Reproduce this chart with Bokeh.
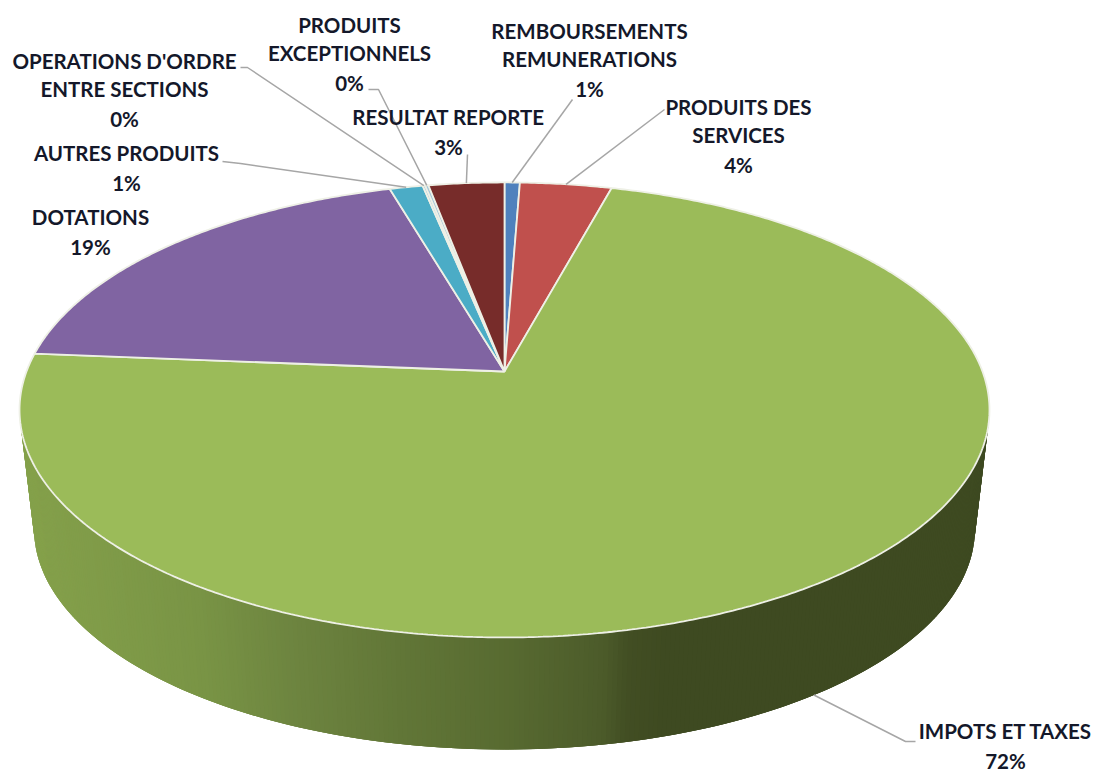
import math
from bokeh.plotting import figure
from bokeh.models import Range1d, ColumnDataSource
from bokeh.core.properties import value
from bokeh.embed import file_html
from bokeh.resources import INLINE

# Budget shares in percent, clockwise from twelve o'clock
categories = ["REMBOURSEMENTS REMUNERATIONS", "PRODUITS DES SERVICES", "IMPOTS ET TAXES",
              "DOTATIONS", "AUTRES PRODUITS", "OPERATIONS D'ORDRE ENTRE SECTIONS",
              "PRODUITS EXCEPTIONNELS", "RESULTAT REPORTE"]
shares = [0.6, 3.6, 72.1, 19.2, 1.3, 0.1, 0.13, 2.97]
colors = ["#4f81bd", "#c0504d", "#9bbb59", "#8064a2", "#4bacc6", "#a6c6d8", "#a6c6d8", "#772c2a"]

# Label lines per slice, with the centre of the block's first line
label_lines = [["REMBOURSEMENTS", "REMUNERATIONS"], ["PRODUITS DES", "SERVICES"], ["IMPOTS ET TAXES"],
               ["DOTATIONS"], ["AUTRES PRODUITS"], ["OPERATIONS D'ORDRE", "ENTRE SECTIONS"],
               ["PRODUITS", "EXCEPTIONNELS"], ["RESULTAT REPORTE"]]
label_x = [589, 738, 1005, 90, 126, 124, 349, 448]
label_y = [30, 106, 730, 216, 152, 60, 24, 116]

# Where each leader line leaves its label (polyline towards the slice)
leader_starts = [[(572, 99)], [(664, 109)], [(915, 741), (905, 741)], [], [(222, 161), (240, 163)],
                 [(240, 67), (247, 67)], [(368, 89), (378, 89)], [(467, 154)]]

# Perspective disc: apex position, half-axes and foreshortening
APEX_X, APEX_Y = 504.0, 371.0
AX_X, AX_Y, PERSP = 478.0, 221.0, 0.169
FLOOR_Y, FLOOR_SCALE = 491.0, 0.97


def rim(deg, floor=False):
    t = math.radians(deg)
    w = 1 + PERSP * math.cos(t)
    s = FLOOR_SCALE if floor else 1.0
    y0 = FLOOR_Y if floor else APEX_Y
    return APEX_X + s * AX_X * math.sin(t) / w, y0 - s * AX_Y * math.cos(t) / w


# Side-wall shading as a function of horizontal position
shade_x = [20, 200, 300, 400, 500, 600, 625, 660, 1000]
shade_c = [(0x85, 0xa1, 0x4b), (0x79, 0x94, 0x45), (0x6c, 0x83, 0x3f), (0x61, 0x76, 0x37),
           (0x58, 0x6b, 0x31), (0x4c, 0x5b, 0x2a), (0x42, 0x4e, 0x23), (0x3e, 0x4a, 0x21), (0x3e, 0x4a, 0x21)]


def shade(x):
    for i in range(len(shade_x) - 1):
        if x <= shade_x[i + 1]:
            f = max(0.0, (x - shade_x[i]) / (shade_x[i + 1] - shade_x[i]))
            c = [round(a + (b - a) * f) for a, b in zip(shade_c[i], shade_c[i + 1])]
            return "#%02x%02x%02x" % tuple(c)
    return "#3e4a21"


p = figure(width=1096, height=772, x_range=Range1d(0, 1096), y_range=Range1d(772, 0),
           output_backend="svg", toolbar_location=None, x_axis_type=None, y_axis_type=None,
           min_border=0, outline_line_color=None, background_fill_color="white")
p.grid.visible = False

# Side wall: quads painted left to right, each overlapping the next to hide seams
wx, wy, wc = [], [], []
step = 0.5
deg = 268.0
while deg > 92.0:
    a, b = rim(deg), rim(deg - 3 * step)
    c, d = rim(deg - 3 * step, True), rim(deg, True)
    wx.append([a[0], b[0], c[0], d[0]])
    wy.append([a[1], b[1], c[1], d[1]])
    wc.append(shade((a[0] + d[0]) / 2))
    deg -= step
p.patches(wx, wy, fill_color=wc, line_color=None)

# Top face
total = sum(shares)
start = 0.0
mids = []
fx, fy = [], []
for v in shares:
    sweep = v / total * 360.0
    n = max(2, int(sweep / 0.5))
    pts = [rim(start + sweep * i / n) for i in range(n + 1)]
    fx.append([APEX_X] + [q[0] for q in pts])
    fy.append([APEX_Y] + [q[1] for q in pts])
    mids.append(start + sweep / 2)
    start += sweep
p.patches(fx, fy, fill_color=colors, line_color="#eef0e6", line_width=1.8)

# Leader lines end on the rim at each slice's middle angle
for name, mid, chain in zip(categories, mids, leader_starts):
    if not chain:
        continue
    end = rim(mid, floor=name == "IMPOTS ET TAXES")
    p.line([q[0] for q in chain] + [end[0]], [q[1] for q in chain] + [end[1]],
           line_color="#a6a6a6", line_width=1.5)

# Labels: name lines followed by the rounded percentage
tx, ty, tt = [], [], []
for lines, v, x, y in zip(label_lines, shares, label_x, label_y):
    for i, line in enumerate(lines):
        tx.append(x); ty.append(y + 28 * i); tt.append(line)
    tx.append(x); ty.append(y + 28 * (len(lines) - 1) + 30); tt.append(f"{round(v / total * 100)}%")
p.text(x="x", y="y", text="t", source=ColumnDataSource(dict(x=tx, y=ty, t=tt)),
       text_font=value("Lato"), text_font_style="bold", text_font_size="20.5px",
       text_color="#14182a", text_align="center", text_baseline="middle")

open("out.html", "w").write(file_html(p, INLINE))
